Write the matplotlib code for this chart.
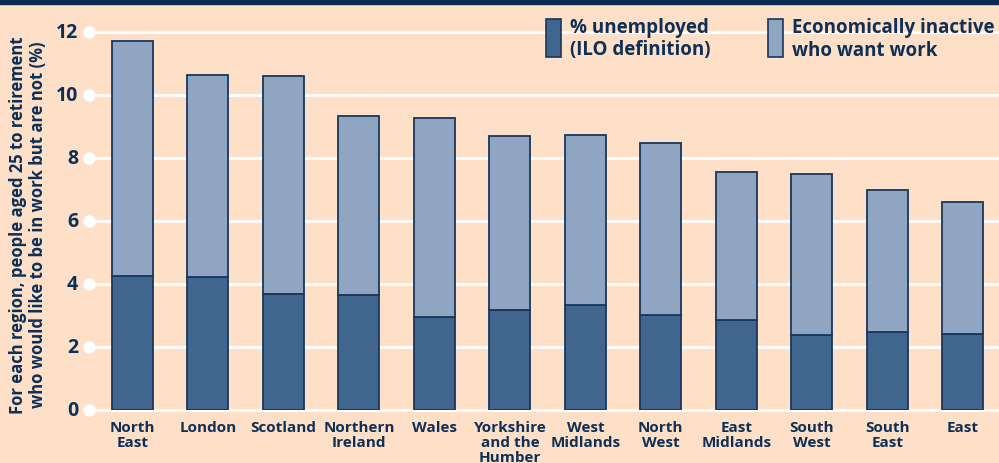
import matplotlib
matplotlib.use("Agg")
import matplotlib.pyplot as plt
import matplotlib.transforms as mtransforms
from matplotlib.patches import Rectangle

regions = ["North\nEast", "London", "Scotland", "Northern\nIreland", "Wales",
           "Yorkshire\nand the\nHumber", "West\nMidlands", "North\nWest",
           "East\nMidlands", "South\nWest", "South\nEast", "East"]
total = [11.71, 10.63, 10.60, 9.33, 9.27, 8.70, 8.73, 8.48, 7.56, 7.49, 6.98, 6.60]
unemployed = [4.25, 4.22, 3.68, 3.65, 2.95, 3.17, 3.33, 3.02, 2.86, 2.38, 2.48, 2.41]
inactive = [t - u for t, u in zip(total, unemployed)]
yticks = [0, 2, 4, 6, 8, 10, 12]

BG = "#fde0c7"
DARK = "#41668d"
LIGHT = "#8fa5c2"
EDGE = "#17375e"
TXT = "#0e2f56"
FONT = ["Open Sans", "DejaVu Sans"]
plt.rcParams['font.family'] = FONT

W, H = 999, 464
fig = plt.figure(figsize=(W / 100, H / 100), dpi=100)
fig.patch.set_facecolor(BG)

# top navy band
fig.add_artist(Rectangle((0, 1 - 5 / H), 1, 5 / H, transform=fig.transFigure,
                         color="#0b2a52", zorder=10))

left_px, right_px = 89, 999
bot_px, top_px = 411, 33
ax = fig.add_axes([left_px / W, (H - bot_px) / H, (right_px - left_px) / W,
                   (bot_px - top_px) / H])
ax.set_facecolor("none")
for s in ax.spines.values():
    s.set_visible(False)

x = list(range(len(regions)))
bw = 0.543
ax.bar(x, unemployed, width=bw, color=DARK, edgecolor=EDGE, linewidth=1.3, zorder=3)
ax.bar(x, inactive, width=bw, bottom=unemployed, color=LIGHT, edgecolor=EDGE,
       linewidth=1.3, zorder=3)

ax.set_xlim(-0.576, 11.48)
ax.set_ylim(0, 12)

trans = mtransforms.blended_transform_factory(ax.transAxes, ax.transData)
for yt in yticks:
    ax.axhline(yt, color="white", linewidth=2, zorder=1, clip_on=False)
    ax.plot([0], [yt], marker="o", markersize=8, color="white", transform=trans,
            clip_on=False, zorder=2)
    ax.text(-11 / (right_px - left_px), yt, str(yt), transform=trans, ha="right",
            va="center", fontsize=14, fontweight="bold", color=TXT)

ax.set_xticks([])
ax.set_yticks([])
for xi, lab in zip(x, regions):
    ax.text(xi, -0.33, lab, ha="center", va="top", fontsize=11, fontweight="bold",
            color=TXT, linespacing=1.08)

fig.text(28 / W, (H - 225) / H,
         "For each region, people aged 25 to retirement\nwho would like to be in work but are not (%)",
         rotation=90, ha="center", va="center", fontsize=12, fontweight="bold",
         color=TXT, linespacing=1.12, multialignment="center")

# legend
for px, col, lab in [(546, DARK, "% unemployed\n(ILO definition)"),
                     (768, LIGHT, "Economically inactive\nwho want work")]:
    fig.add_artist(Rectangle((px / W, (H - 58) / H), 15 / W, 38 / H,
                             transform=fig.transFigure, facecolor=col,
                             edgecolor=EDGE, linewidth=1.2, zorder=5))
    fig.text((px + 24) / W, (H - 39) / H, lab, ha="left", va="center",
             fontsize=13.5, fontweight="bold", color=TXT, linespacing=1.2)

fig.savefig("out.png", dpi=100, facecolor=BG)
